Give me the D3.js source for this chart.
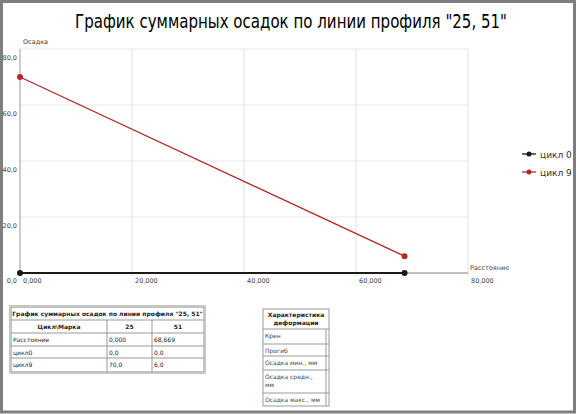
<!DOCTYPE html>
<html>
<head>
<meta charset="utf-8">
<script src="https://cdn.jsdelivr.net/npm/d3@7"></script>
<style>
  body { margin: 0; background: #fff; }
  svg { display: block; font-family: "DejaVu Sans", sans-serif; }
</style>
</head>
<body>
<div id="chart"></div>
<script>
// chart data
const marks = ["25", "51"];
const distances = [0.0, 68.669];
const cycle0 = [0.0, 0.0];
const cycle9 = [70.0, 6.0];
const seriesNames = ["цикл 0", "цикл 9"];
const seriesColors = ["#1a1a1a", "#b22a2a"];
const xTicks = [0, 20, 40, 60, 80];
const yTicks = [0, 20, 40, 60, 80];
const tableTitle = "График суммарных осадок по линии профиля \"25, 51\"";
const tableRowNames = ["Расстояние", "цикл0", "цикл9"];
const deformRows = ["Крен", "Прогиб", "Осадка мин., мм", ["Осадка средн.,", "мм"], "Осадка макс., мм"];

const W = 577, H = 414;
const locale = d3.formatLocale({decimal: ",", thousands: " ", grouping: [3], currency: ["", ""]});
const fx = locale.format(".3f"), fy = locale.format(".1f");

const svg = d3.select("#chart").append("svg").attr("width", W).attr("height", H);

// frame
svg.append("rect").attr("x", 1.5).attr("y", 1.5).attr("width", 573).attr("height", 410.5)
    .attr("fill", "#fff").attr("stroke", "#7f7f7f").attr("stroke-width", 3);

svg.append("text").attr("x", 291).attr("y", 28).attr("text-anchor", "middle")
    .attr("textLength", 432).attr("lengthAdjust", "spacingAndGlyphs")
    .style("font-family", "'DejaVu Sans Condensed', 'DejaVu Sans', sans-serif").style("font-size", "19px")
    .text("График суммарных осадок по линии профиля \"25, 51\"");

const x = d3.scaleLinear().domain([0, 80]).range([20, 468]);
const y = d3.scaleLinear().domain([0, 80]).range([273, 49]);

// grid
svg.append("g").selectAll("line").data(xTicks.slice(1)).enter().append("line")
    .attr("x1", d => x(d)).attr("x2", d => x(d)).attr("y1", y(80)).attr("y2", y(0) + 3)
    .attr("stroke", "#e2e2e2");
svg.append("g").selectAll("line").data(yTicks.slice(1)).enter().append("line")
    .attr("x1", x(0)).attr("x2", x(80)).attr("y1", d => y(d)).attr("y2", d => y(d))
    .attr("stroke", "#e8e8e8");

// axes lines
svg.append("line").attr("x1", x(0)).attr("x2", x(0)).attr("y1", y(80)).attr("y2", y(0))
    .attr("stroke", "#999");
svg.append("line").attr("x1", x(0)).attr("x2", x(80)).attr("y1", y(0)).attr("y2", y(0))
    .attr("stroke", "#aaa").attr("stroke-width", 1.5);

const small = "6.5px";
svg.append("g").selectAll("text").data(xTicks).enter().append("text")
    .attr("x", d => x(d) + 3).attr("y", y(0) + 9.5)
    .style("font-size", small).attr("fill", "#444").text(d => fx(d));
svg.append("g").selectAll("text").data(yTicks).enter().append("text")
    .attr("x", x(0) - 3).attr("y", d => y(d) + (d === 0 ? 9.5 : 11)).attr("text-anchor", "end")
    .style("font-size", small).attr("fill", "#444").text(d => fy(d));
svg.append("text").attr("x", x(0) + 3).attr("y", y(80) - 5).style("font-size", small)
    .attr("fill", "#444").text("Осадка");
svg.append("text").attr("x", x(80) + 2).attr("y", y(0) - 3).style("font-size", small)
    .attr("fill", "#444").text("Расстояние");

// series
const series = [cycle0, cycle9].map((vals, i) => ({
  name: seriesNames[i], color: seriesColors[i],
  pts: vals.map((v, j) => ({d: distances[j], v}))
}));
const line = d3.line().x(p => x(p.d)).y(p => y(p.v));
series.forEach(s => {
  svg.append("path").attr("d", line(s.pts)).attr("fill", "none")
      .attr("stroke", s.color).attr("stroke-width", s.name === "цикл 0" ? 2.2 : 1.3);
  svg.append("g").selectAll("circle").data(s.pts).enter().append("circle")
      .attr("cx", p => x(p.d)).attr("cy", p => y(p.v)).attr("r", 3).attr("fill", s.color);
});

// legend
const leg = svg.append("g").selectAll("g").data(series).enter().append("g")
    .attr("transform", (d, i) => `translate(522,${154 + i * 18})`);
leg.append("line").attr("x1", 0).attr("x2", 14).attr("stroke", d => d.color).attr("stroke-width", 1.3);
leg.append("circle").attr("cx", 7).attr("r", 2.5).attr("fill", d => d.color);
leg.append("text").attr("x", 18).attr("y", 3.5).style("font-size", "9px").attr("fill", "#333").text(d => d.name);

// table 1
const t1 = svg.append("g").style("font-size", "6px").attr("fill", "#222");
const colX = [11, 107, 152, 204];
const rowY = [307, 320, 333, 346, 358, 372];
t1.append("rect").attr("x", colX[0]).attr("y", rowY[0]).attr("width", colX[3] - colX[0]).attr("height", rowY[5] - rowY[0])
    .attr("fill", "none").attr("stroke", "#888").attr("stroke-width", 1);
t1.append("rect").attr("x", colX[0] - 1.5).attr("y", rowY[0] - 1.5).attr("width", colX[3] - colX[0] + 3).attr("height", rowY[5] - rowY[0] + 3)
    .attr("fill", "none").attr("stroke", "#bbb").attr("stroke-width", 0.8);
t1.selectAll("line.h").data(rowY.slice(1, 5)).enter().append("line")
    .attr("x1", colX[0]).attr("x2", colX[3]).attr("y1", d => d).attr("y2", d => d).attr("stroke", "#999");
t1.selectAll("line.v").data(colX.slice(1, 3)).enter().append("line")
    .attr("x1", d => d).attr("x2", d => d).attr("y1", rowY[1]).attr("y2", rowY[5]).attr("stroke", "#999");
t1.append("text").attr("x", (colX[0] + colX[3]) / 2).attr("y", rowY[0] + 9).attr("text-anchor", "middle")
    .style("font-weight", "bold").text(tableTitle);
["Цикл\\Марка"].concat(marks).forEach((h, i) => {
  t1.append("text").attr("x", (colX[i] + colX[i + 1]) / 2).attr("y", rowY[1] + 9).attr("text-anchor", "middle")
      .style("font-weight", "bold").text(h);
});
const tableVals = [distances.map(fx), cycle0.map(fy), cycle9.map(fy)];
tableRowNames.forEach((r, i) => {
  t1.append("text").attr("x", colX[0] + 2).attr("y", rowY[i + 2] + 9).text(r);
  tableVals[i].forEach((v, j) => {
    t1.append("text").attr("x", colX[j + 1] + 2).attr("y", rowY[i + 2] + 9).text(v);
  });
});

// table 2
const t2 = svg.append("g").style("font-size", "6px").attr("fill", "#222");
const dx0 = 263, dx1 = 326, dx2 = 329;
const dY = [309, 329, 344, 356, 370, 393, 406];
t2.append("rect").attr("x", dx0).attr("y", dY[0]).attr("width", dx2 - dx0).attr("height", dY[6] - dY[0])
    .attr("fill", "none").attr("stroke", "#999");
t2.selectAll("line.h").data(dY.slice(1, 6)).enter().append("line")
    .attr("x1", dx0).attr("x2", dx2).attr("y1", d => d).attr("y2", d => d).attr("stroke", "#999");
t2.append("line").attr("x1", dx1).attr("x2", dx1).attr("y1", dY[1]).attr("y2", dY[6]).attr("stroke", "#999");
["Характеристика", "деформации"].forEach((s, i) => {
  t2.append("text").attr("x", (dx0 + dx2) / 2).attr("y", dY[0] + 8 + i * 8).attr("text-anchor", "middle")
      .style("font-weight", "bold").text(s);
});
deformRows.forEach((r, i) => {
  const lines = Array.isArray(r) ? r : [r];
  lines.forEach((s, k) => {
    t2.append("text").attr("x", dx0 + 2).attr("y", dY[i + 1] + 9 + k * 8).attr("fill", "#444").text(s);
  });
});
</script>
</body>
</html>
